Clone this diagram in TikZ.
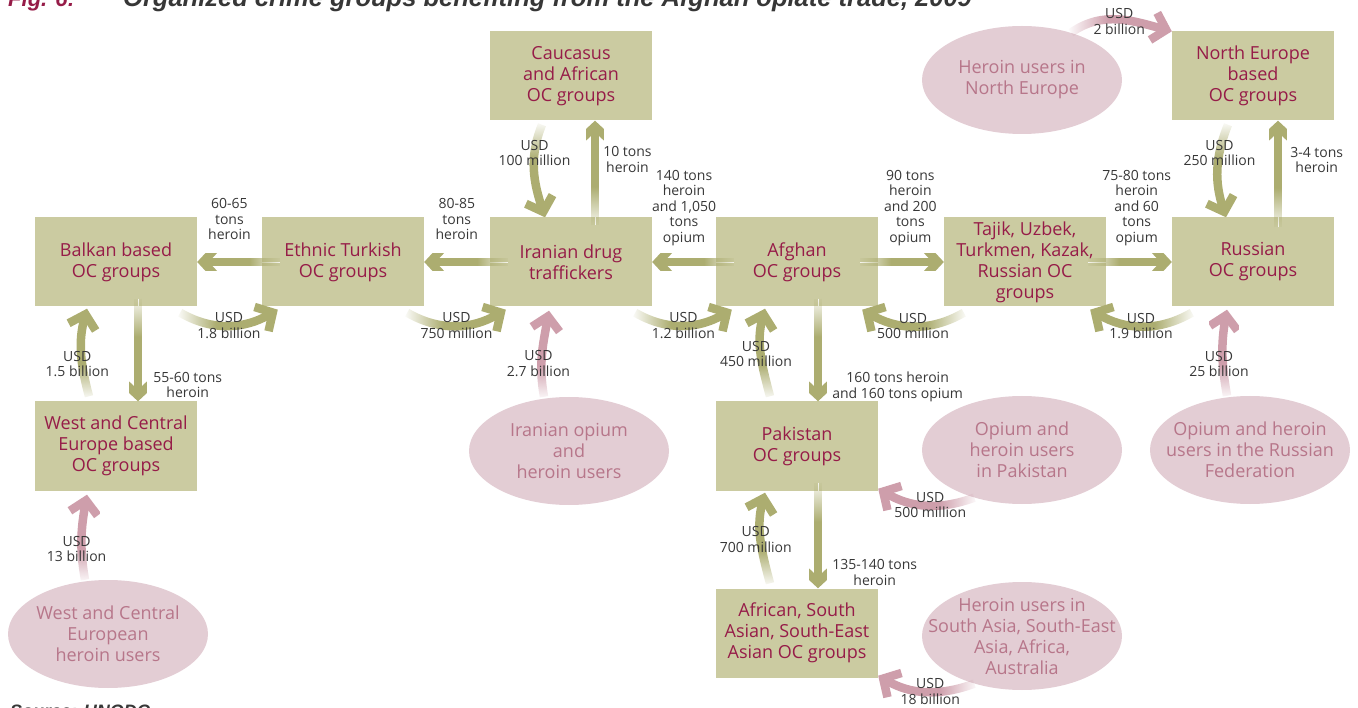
\documentclass[tikz,border=0pt]{standalone}
\usepackage{fontspec}
\setmainfont{Open Sans}
\newfontfamily\titlefont{Liberation Sans}
\usetikzlibrary{arrows.meta,shapes.geometric,fadings}

\definecolor{boxfill}{RGB}{203,203,161}
\definecolor{boxtext}{RGB}{150,28,72}
\definecolor{arrowolive}{RGB}{172,173,112}
\definecolor{userfill}{RGB}{227,205,212}
\definecolor{usertext}{RGB}{183,118,138}
\definecolor{arrowpink}{RGB}{206,158,171}
\definecolor{labelgray}{RGB}{55,55,55}

\pgfdeclarehorizontalshading{tailshading}{100bp}{color(0bp)=(pgftransparent!100); color(25bp)=(pgftransparent!100); color(44bp)=(pgftransparent!0); color(100bp)=(pgftransparent!0)}
\tikzfading[name=tailfade, shading=tailshading]

\begin{document}
\begin{tikzpicture}[x=1pt, y=1pt,
    ocbox/.style={fill=boxfill, text=boxtext, minimum width=162pt, minimum height=89pt, inner sep=0pt, align=center, font=\fontsize{18}{21}\selectfont},
    users/.style={ellipse, fill=userfill, minimum width=200pt, minimum height=108pt, inner sep=0pt},
    userlabel/.style={text=usertext, inner sep=0pt, align=center, font=\fontsize{18}{21}\selectfont},
    amount/.style={text=labelgray, inner sep=0pt, align=center, font=\fontsize{14}{15.5}\selectfont},
    flow/.style 2 args={draw=none, line width=8.5pt, preaction={draw=white},
      postaction={draw=#1, -{Straight Barb[length=13pt, width=28pt, line width=8.5pt, sharp]}, path fading=tailfade, fading angle=#2}},
    heroin/.style={flow={arrowolive}{#1}},
    cash/.style={flow={arrowpink}{#1}},
    heading/.style={anchor=base west, inner sep=0pt, font=\titlefont\bfseries\itshape\fontsize{22}{22}\selectfont}]
      \clip (0,0) rectangle (1358,-708);

      \node[heading, text=boxtext] (fignum) at (8,-7) {Fig. 6:};
      \node[heading, text=labelgray, font=\titlefont\bfseries\itshape\fontsize{25.5}{25.5}\selectfont] (title) at (123,-7) {Organized crime groups benefiting from the Afghan opiate trade, 2009};
      \node[heading, text=labelgray, font=\titlefont\bfseries\itshape\fontsize{18}{18}\selectfont] (source) at (10,-717) {Source: UNODC};

      \node[ocbox] (caucasus) at (571,-76) {Caucasus\\and African\\OC groups};
      \node[ocbox] (balkan) at (116,-262) {Balkan based\\OC groups};
      \node[ocbox] (turkish) at (343,-262) {Ethnic Turkish\\OC groups};
      \node[ocbox] (iranian) at (571,-262) {Iranian drug\\traffickers};
      \node[ocbox] (afghan) at (797,-262) {Afghan\\OC groups};
      \node[ocbox] (tajik) at (1025,-262) {Tajik, Uzbek,\\Turkmen, Kazak,\\Russian OC\\groups};
      \node[ocbox] (russian) at (1253,-262) {Russian\\OC groups};
      \node[ocbox] (northeu) at (1253,-76) {North Europe\\based\\OC groups};
      \node[ocbox] (westeu) at (116,-446) {West and Central\\Europe based\\OC groups};
      \node[ocbox] (pakistan) at (797,-446) {Pakistan\\OC groups};
      \node[ocbox] (african) at (797,-633) {African, South\\Asian, South-East\\Asian OC groups};

      \node[users, label={[userlabel]center:Heroin users in\\North Europe}] (neusers) at (1022,-80) {};
      \node[users, label={[userlabel]center:Iranian opium\\and\\heroin users}] (iranusers) at (569,-451) {};
      \node[users, label={[userlabel]center:Opium and\\heroin users\\in Pakistan}] (pakusers) at (1022,-450) {};
      \node[users, label={[userlabel]center:Opium and heroin\\users in the Russian\\Federation}] (rususers) at (1250,-450) {};
      \node[users, label={[userlabel]center:Heroin users in\\South Asia, South-East\\Asia, Africa,\\Australia}] (sausers) at (1022,-636) {};
      \node[users, label={[userlabel]center:West and Central\\European\\heroin users}] (wcusers) at (108,-634) {};

      \draw[heroin=180] ([xshift=18pt]afghan.west) to node[amount, above=12pt, pos=0.61]{140 tons\\heroin\\and 1,050\\tons\\opium} (iranian.east);
      \draw[heroin=180] ([xshift=18pt]iranian.west) to node[amount, above=18pt, pos=0.61]{80-85\\tons\\heroin} (turkish.east);
      \draw[heroin=180] ([xshift=18pt]turkish.west) to node[amount, above=18pt, pos=0.61]{60-65\\tons\\heroin} (balkan.east);
      \draw[heroin=0] ([xshift=-18pt]afghan.east) to node[amount, above=12pt, pos=0.6]{90 tons\\heroin\\and 200\\tons\\opium} (tajik.west);
      \draw[heroin=0] ([xshift=-18pt]tajik.east) to node[amount, above=12pt, pos=0.58]{75-80 tons\\heroin\\and 60\\tons\\opium} (russian.west);
      \draw[heroin=90] ([xshift=24pt, yshift=-8pt]iranian.north) to node[amount, right=4pt, pos=0.63]{10 tons\\heroin} ([xshift=24pt]caucasus.south);
      \draw[heroin=90] ([xshift=25pt, yshift=-10pt]russian.north) to node[amount, right=8pt, pos=0.63]{3-4 tons\\heroin} ([xshift=25pt]northeu.south);
      \draw[heroin=-90] ([xshift=22pt, yshift=8pt]balkan.south) to node[amount, right=11pt, pos=0.84]{55-60 tons\\heroin} ([xshift=22pt]westeu.north);
      \draw[heroin=-90] ([xshift=21pt, yshift=8pt]afghan.south) to node[amount, right=10pt, pos=0.86]{160 tons heroin\\and 160 tons opium} ([xshift=21pt]pakistan.north);
      \draw[heroin=-90] ([xshift=21pt, yshift=8pt]pakistan.south) to node[amount, right=10pt, pos=0.85]{135-140 tons\\heroin} ([xshift=21pt]african.north);

      \draw[heroin=-90] ([xshift=-29pt, yshift=-4pt]caucasus.south) to[out=-112, in=108] node[amount, pos=0.3]{USD\\100 million} ([xshift=-26pt]iranian.north);
      \draw[heroin=-90] ([xshift=-25pt, yshift=-4pt]northeu.south) to[out=-112, in=108] node[amount, pos=0.3]{USD\\250 million} ([xshift=-27pt]russian.north);
      \draw[heroin=0] ([xshift=-17pt, yshift=-6pt]balkan.south east) to[out=-30, in=210] node[amount]{USD\\1.8 billion} ([xshift=16pt, yshift=-3pt]turkish.south west);
      \draw[heroin=0] ([xshift=-17pt, yshift=-6pt]turkish.south east) to[out=-30, in=210] node[amount]{USD\\750 million} ([xshift=16pt, yshift=-3pt]iranian.south west);
      \draw[heroin=0] ([xshift=-17pt, yshift=-6pt]iranian.south east) to[out=-30, in=210] node[amount]{USD\\1.2 billion} ([xshift=16pt, yshift=-3pt]afghan.south west);
      \draw[heroin=180] ([xshift=20pt, yshift=-6pt]tajik.south west) to[out=210, in=-30] node[amount]{USD\\500 million} ([xshift=-16pt, yshift=-3pt]afghan.south east);
      \draw[heroin=180] ([xshift=20pt, yshift=-6pt]russian.south west) to[out=210, in=-30] node[amount]{USD\\1.9 billion} ([xshift=-16pt, yshift=-3pt]tajik.south east);
      \draw[heroin=90] ([xshift=-27pt, yshift=5pt]westeu.north) to[out=105, in=-105] node[amount, pos=0.36, xshift=-5pt]{USD\\1.5 billion} ([xshift=-29pt, yshift=-2pt]balkan.south);
      \draw[heroin=90] ([xshift=-27pt, yshift=5pt]pakistan.north) to[out=105, in=-105] node[amount, pos=0.48, xshift=-5pt]{USD\\450 million} ([xshift=-32pt, yshift=-2pt]afghan.south);
      \draw[heroin=90] ([xshift=-27pt, yshift=5pt]african.north) to[out=105, in=-105] node[amount, pos=0.48, xshift=-5pt]{USD\\700 million} ([xshift=-32pt, yshift=-2pt]pakistan.south);

      \draw[cash=0] (neusers.44) to[out=35, in=165] node[amount, yshift=-2pt]{USD\\2 billion} (northeu.north west);
      \draw[cash=90] ([xshift=-25pt]iranusers.north) to[out=100, in=-100] node[amount, pos=0.38, xshift=-3pt]{USD\\2.7 billion} ([xshift=-22pt, yshift=-4pt]iranian.south);
      \draw[cash=180] (pakusers.225) to[out=200, in=-30] node[amount, xshift=5pt]{USD\\500 million} ([yshift=2pt]pakistan.south east);
      \draw[cash=90] ([xshift=-23pt]rususers.north) to[out=100, in=-100] node[amount, pos=0.36, xshift=-4pt]{USD\\25 billion} ([xshift=-26pt, yshift=-3pt]russian.south);
      \draw[cash=180] (sausers.225) to[out=200, in=-30] node[amount, xshift=5pt]{USD\\18 billion} ([yshift=2pt]african.south east);
      \draw[cash=90] ([xshift=-23pt]wcusers.north) to[out=100, in=-100] node[amount, pos=0.35, xshift=-5pt]{USD\\13 billion} ([xshift=-29pt, yshift=-4pt]westeu.south);
\end{tikzpicture}
\end{document}
